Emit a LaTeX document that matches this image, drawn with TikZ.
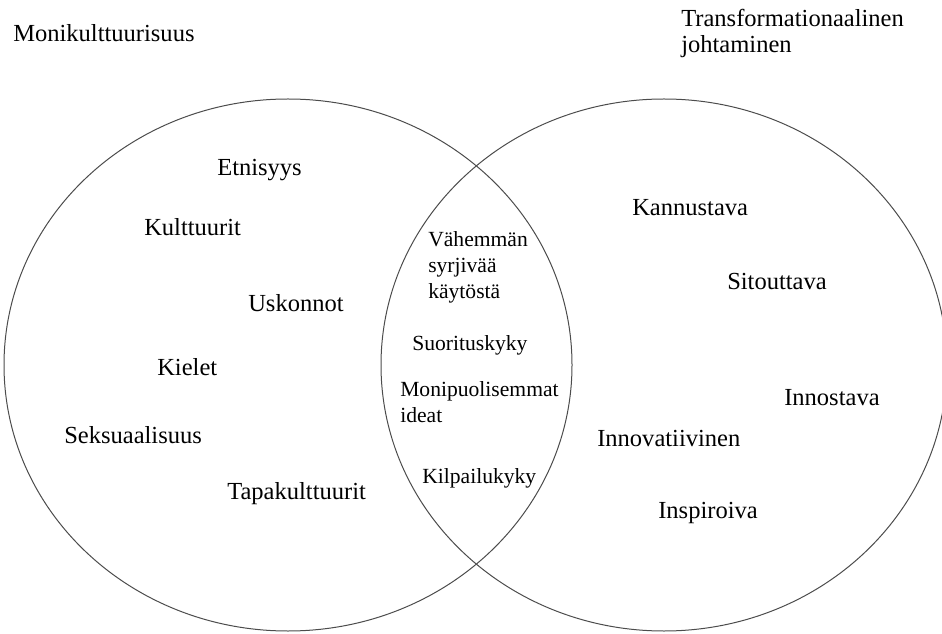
\documentclass[tikz,border=0pt]{standalone}
\usepackage{fontspec}
\setmainfont{Liberation Serif}
\usepackage{tikz}
\usetikzlibrary{positioning}
\tikzset{
    setring/.style={draw=black!70, line width=0.75pt},
    heading/.style={inner sep=0pt, anchor=base west, align=left, font=\fontsize{18.4}{19.5}\selectfont},
    term/.style={inner sep=0pt, anchor=base west, font=\fontsize{18.4}{19.5}\selectfont},
    lensterm/.style={inner sep=0pt, anchor=base west, align=left, font=\fontsize{16.2}{19.5}\selectfont}
}

\begin{document}
\begin{tikzpicture}[x=0.75pt, y=-0.75pt]
        \useasboundingbox (0,0) rectangle (942,634);

        % Two overlapping sets
        \coordinate (multic) at (288,365);
        \coordinate (transc) at (664,365);
        \draw[setring] (multic) ellipse [x radius=284, y radius=266];
        \draw[setring] (transc) ellipse [x radius=283, y radius=266];

        % Set titles (multi-line nodes sit on their last baseline)
        \node[heading] (multi) at (13,42) {Monikulttuurisuus};
        \node[heading] (trans) at (681,53) {Transformationaalinen\\johtaminen};

        % Left set
        \node[term] (etni) at (217,176) {Etnisyys};
        \node[term] (kult) at (144,236) {Kulttuurit};
        \node[term] (usko) at (248,312) {Uskonnot};
        \node[term] (kiel) at (157,376) {Kielet};
        \node[term] (seks) at (64,443) {Seksuaalisuus};
        \node[term] (tapa) at (227,499) {Tapakulttuurit};

        % Overlap
        \node[lensterm] (syrj) at (428,299) {Vähemmän\\syrjivää\\käytöstä};
        \node[lensterm] (suor) at (412,351) {Suorituskyky};
        \node[lensterm] (moni) at (400,422) {Monipuolisemmat\\ideat};
        \node[lensterm] (kilp) at (422,483) {Kilpailukyky};

        % Right set
        \node[term] (kann) at (632,216) {Kannustava};
        \node[term] (sito) at (727,290) {Sitouttava};
        \node[term] (inno) at (784,406) {Innostava};
        \node[term] (invt) at (597,446) {Innovatiivinen};
        \node[term] (insp) at (658,518) {Inspiroiva};
\end{tikzpicture}
\end{document}
